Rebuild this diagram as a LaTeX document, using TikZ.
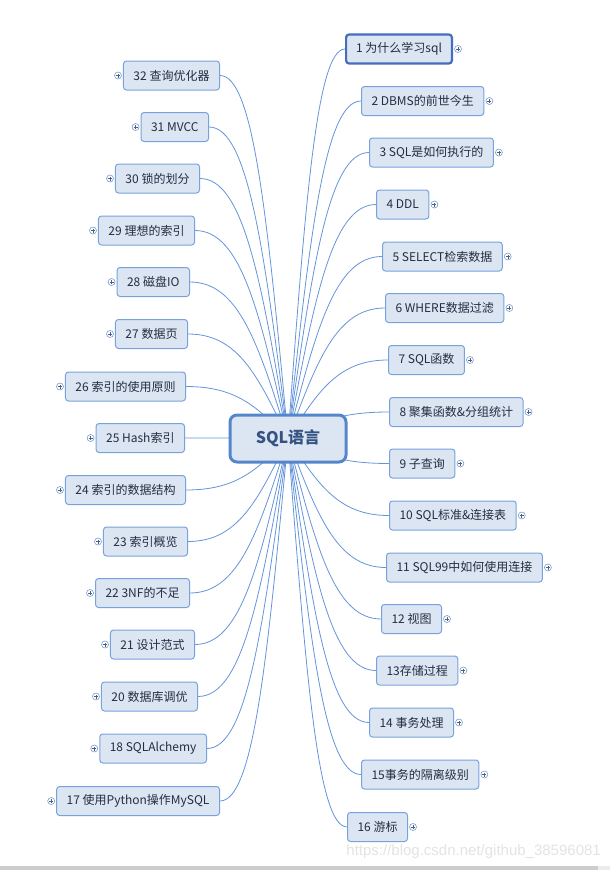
\documentclass[tikz,border=0pt]{standalone}
\usepackage{fontspec}
\setmainfont{Noto Sans CJK SC}
\newfontfamily\wmfont{Liberation Sans}
\usepackage{tikz}
\usetikzlibrary{positioning, backgrounds, calc}
\definecolor{mapfill}{RGB}{220,230,242}
\definecolor{mapdraw}{RGB}{120,162,220}
\definecolor{maptext}{RGB}{35,45,65}
\definecolor{mapline}{RGB}{100,148,218}
\definecolor{maproot}{RGB}{84,134,204}
\definecolor{maprootext}{RGB}{52,82,130}
\definecolor{mapsel}{RGB}{70,108,190}
\tikzset{
  %% ---- boxes ----
  topic/.style   = {rectangle, rounded corners=3pt,
                    draw=mapdraw, line width=1pt,
                    fill=mapfill, text=maptext,
                    minimum height=29pt, inner xsep=10pt, inner ysep=0pt,
                    font=\fontsize{12}{14}\selectfont},
  seltopic/.style= {topic, draw=mapsel, line width=2.2pt},
  rootnode/.style= {rectangle, rounded corners=7pt,
                    draw=maproot, line width=3pt,
                    fill=mapfill, text=maprootext,
                    minimum width=116pt, minimum height=47pt,
                    font=\fontsize{16}{18}\selectfont\bfseries},
  expander/.style= {circle, draw=mapdraw!80!gray, fill=white,
                    line width=0.6pt, minimum size=7pt, inner sep=0pt,
                    path picture={
                      \draw[mapdraw!60!black, line width=0.5pt]
                        ([xshift=-2pt]path picture bounding box.center) --
                        ([xshift=2pt]path picture bounding box.center)
                        ([yshift=-2pt]path picture bounding box.center) --
                        ([yshift=2pt]path picture bounding box.center);}},
  %% ---- connectors ----
  link/.style    = {line width=0.8pt, color=mapline},
}

\begin{document}
\begin{tikzpicture}[x=1pt, y=-1pt]
  \useasboundingbox (0,0) rectangle (610,870);

  %% Central topic
  \node[rootnode] (root) at (288,438.5) {SQL语言};

  %% Right branch
  \node[seltopic, anchor=west] (r1) at (345,49) {1 为什么学习sql};
  \foreach \i/\x/\y/\t in {2/361/101/{2 DBMS的前世今生},
      3/369/152.5/{3 SQL是如何执行的}, 4/376/204.5/{4 DDL},
      5/382/256.5/{5 SELECT检索数据}, 6/385/308/{6 WHERE数据过滤},
      7/388/360/{7 SQL函数}, 8/389/412/{8 聚集函数\&分组统计},
      9/389/463.5/{9 子查询}, 10/389/515.5/{10 SQL标准\&连接表},
      11/386/567.5/{11 SQL99中如何使用连接}, 12/381/619/{12 视图},
      13/376/670.5/{13存储过程}, 14/369/722.5/{14 事务处理},
      15/361/774.5/{15事务的隔离级别}, 16/347/827/{16 游标}}
    \node[topic, anchor=west] (r\i) at (\x,\y) {\t};

  %% Left branch
  \foreach \i/\x/\y/\t in {32/220/75.5/{32 查询优化器},
      31/209/127/{31 MVCC}, 30/200/178.5/{30 锁的划分},
      29/195/230.5/{29 理想的索引}, 28/190/282/{28 磁盘IO},
      27/188/334/{27 数据页}, 26/186/386.5/{26 索引的使用原则},
      25/185/438/{25 Hash索引}, 24/186/490/{24 索引的数据结构},
      23/188/541.5/{23 索引概览}, 22/190/593/{22 3NF的不足},
      21/195/644.5/{21 设计范式}, 20/198/696.5/{20 数据库调优},
      18/207/748.5/{18 SQLAlchemy}, 17/220/801/{17 使用Python操作MySQL}}
    \node[topic, anchor=east] (l\i) at (\x,\y) {\t};

  %% Expand markers
  \foreach \i in {1,...,16}
    \node[expander] (xr\i) at ([xshift=5pt]r\i.east) {};
  \foreach \i in {17,18,20,21,...,32}
    \node[expander] (xl\i) at ([xshift=-5pt]l\i.west) {};

  %% Branch lines, behind the boxes
  \begin{scope}[on background layer]
    \foreach \i in {1,...,16}
      \draw[link] let \p1=(root.center), \p2=(r\i.west) in
        (\p1) .. controls ({\x1+0.3*(\x2-\x1)},{\y1+0.6*(\y2-\y1)})
                   and ({\x1+0.5*(\x2-\x1)},\y2) .. (\p2);
    \foreach \i in {17,18,20,21,...,32}
      \draw[link] let \p1=(root.center), \p2=(l\i.east) in
        (\p1) .. controls ({\x1+0.3*(\x2-\x1)},{\y1+0.6*(\y2-\y1)})
                   and ({\x1+0.5*(\x2-\x1)},\y2) .. (\p2);
  \end{scope}

  %% Watermark and bottom bar
  \node[anchor=east, text=gray!22, inner sep=0pt,
        font=\wmfont\fontsize{15}{17}\selectfont] (wm) at (601,852)
    {https://blog.csdn.net/github\_38596081};
  \fill[gray!40] (0,866) rectangle (598,870);
  \fill[gray!15] (598,866) rectangle (610,870);

\end{tikzpicture}
\end{document}
